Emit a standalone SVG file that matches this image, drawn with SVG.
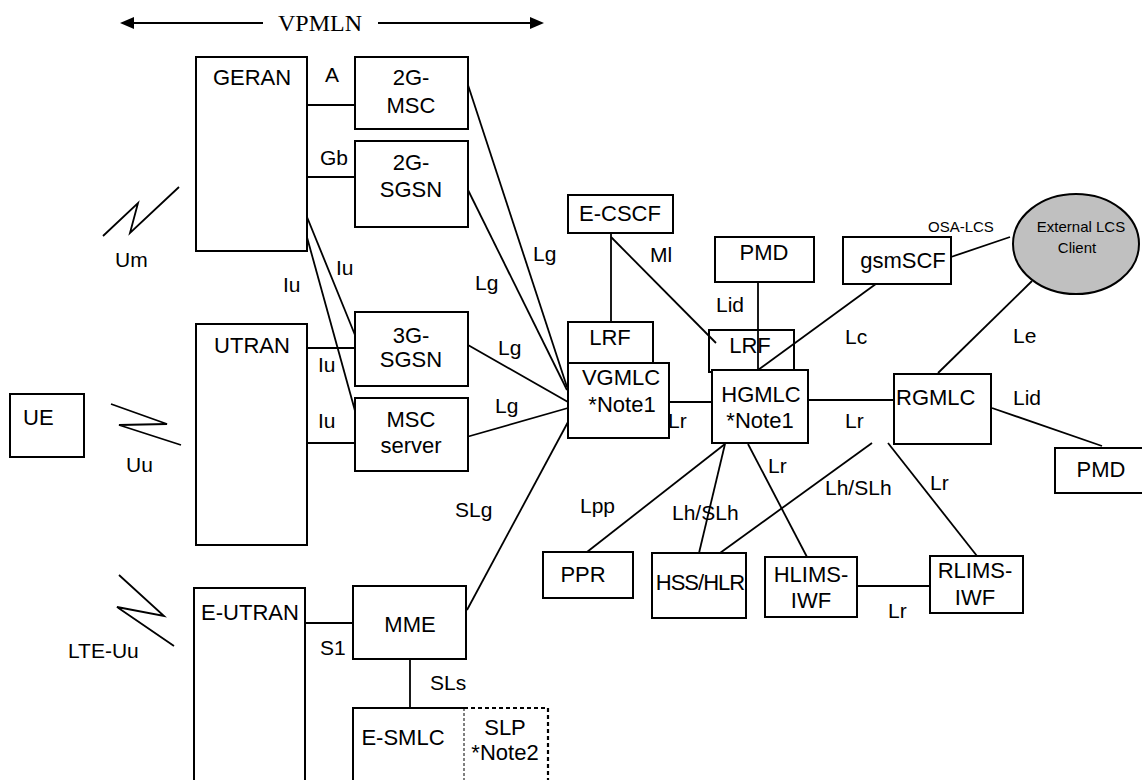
<svg xmlns="http://www.w3.org/2000/svg" width="1142" height="780" viewBox="0 0 1142 780">
<style>
.b{fill:#fff;stroke:#000;stroke-width:2}
.t{font-family:"Liberation Sans",Arial,sans-serif;font-size:22px;fill:#000;text-anchor:middle}
.l{font-family:"Liberation Sans",Arial,sans-serif;font-size:21px;fill:#000}
.s{font-family:"Liberation Sans",Arial,sans-serif;font-size:15px;fill:#000}
.c{stroke:#000;stroke-width:1.8;fill:none}
</style>
<rect width="1142" height="780" fill="#fff"/>
<g id="vpmln">
<line class="c" x1="132" y1="23" x2="263" y2="23" stroke-width="2.4"/>
<polygon points="120,23 134,17 134,29" fill="#000"/>
<line class="c" x1="378" y1="23" x2="531" y2="23" stroke-width="2.4"/>
<polygon points="544,23 530,17 530,29" fill="#000"/>
<text x="320" y="31" font-family="Liberation Serif,Times New Roman,serif" font-size="24" text-anchor="middle">VPMLN</text>
</g>
<g id="connectors">
<line class="c" x1="307" y1="105" x2="355" y2="105"/>
<line class="c" x1="307" y1="177" x2="355" y2="177"/>
<line class="c" x1="307" y1="217" x2="355" y2="335"/>
<line class="c" x1="305" y1="230" x2="357" y2="418"/>
<line class="c" x1="307" y1="348" x2="355" y2="348"/>
<line class="c" x1="307" y1="443" x2="355" y2="443"/>
<line class="c" x1="468" y1="85" x2="567" y2="387"/>
<line class="c" x1="468" y1="190" x2="567" y2="390"/>
<line class="c" x1="468" y1="345" x2="568" y2="402"/>
<line class="c" x1="463" y1="438" x2="568" y2="408"/>
<line class="c" x1="467" y1="610" x2="568" y2="422"/>
<line class="c" x1="305" y1="623" x2="353" y2="623"/>
<line class="c" x1="410" y1="659" x2="410" y2="708"/>
<line class="c" x1="611" y1="233" x2="611" y2="322"/>
<line class="c" x1="611" y1="237" x2="716" y2="343"/>
<line class="c" x1="758" y1="282" x2="758" y2="370"/>
<line class="c" x1="884" y1="278" x2="758" y2="370"/>
<line class="c" x1="663" y1="402" x2="712" y2="402"/>
<line class="c" x1="808" y1="400" x2="894" y2="400"/>
<line class="c" x1="951" y1="257" x2="1010" y2="237"/>
<line class="c" x1="1032" y1="281" x2="938" y2="373"/>
<line class="c" x1="992" y1="408" x2="1102" y2="446"/>
<line class="c" x1="725" y1="444" x2="587" y2="552"/>
<line class="c" x1="725" y1="444" x2="699" y2="553"/>
<line class="c" x1="748" y1="444" x2="807" y2="557"/>
<line class="c" x1="872" y1="443" x2="720" y2="553"/>
<line class="c" x1="888" y1="443" x2="977" y2="556"/>
<line class="c" x1="857" y1="586" x2="930" y2="586"/>
<polyline class="c" points="103,236 138,203 130,233 179,187"/>
<polyline class="c" points="111,404 167,424 119,425 181,445"/>
<polyline class="c" points="119,575 164,616 117,607 174,646"/>
<text class="l" x="325" y="82">A</text>
<text class="l" x="320" y="165">Gb</text>
<text class="l" x="115" y="267">Um</text>
<text class="l" x="336" y="275">Iu</text>
<text class="l" x="283" y="292">Iu</text>
<text class="l" x="318" y="372">Iu</text>
<text class="l" x="318" y="428">Iu</text>
<text class="l" x="126" y="472">Uu</text>
<text class="l" x="533" y="261">Lg</text>
<text class="l" x="475" y="290">Lg</text>
<text class="l" x="498" y="355">Lg</text>
<text class="l" x="495" y="413">Lg</text>
<text class="l" x="650" y="262">Ml</text>
<text class="l" x="716" y="312">Lid</text>
<text class="l" x="845" y="344">Lc</text>
<text class="l" x="1013" y="343">Le</text>
<text class="s" x="928" y="232">OSA-LCS</text>
<text class="l" x="668" y="428">Lr</text>
<text class="l" x="845" y="428">Lr</text>
<text class="l" x="1013" y="405">Lid</text>
<text class="l" x="455" y="517">SLg</text>
<text class="l" x="580" y="513">Lpp</text>
<text class="l" x="672" y="520">Lh/SLh</text>
<text class="l" x="768" y="473">Lr</text>
<text class="l" x="825" y="495">Lh/SLh</text>
<text class="l" x="930" y="490">Lr</text>
<text class="l" x="888" y="618">Lr</text>
<text class="l" x="68" y="658">LTE-Uu</text>
<text class="l" x="320" y="655">S1</text>
<text class="l" x="430" y="690">SLs</text>
</g>
<g id="ue"><rect class="b" x="10" y="394" width="74" height="63"/><text class="t" x="23" y="425" style="text-anchor:start">UE</text></g>
<g id="geran"><rect class="b" x="196" y="57" width="111" height="194"/><text class="t" x="252" y="85">GERAN</text></g>
<g id="utran"><rect class="b" x="196" y="324" width="111" height="221"/><text class="t" x="252" y="353">UTRAN</text></g>
<g id="eutran"><rect class="b" x="194" y="588" width="111" height="220"/><text class="t" x="250" y="620">E-UTRAN</text></g>
<g id="msc2g"><rect class="b" x="355" y="57" width="113" height="72"/><text class="t" x="411" y="85">2G-</text><text class="t" x="411" y="113">MSC</text></g>
<g id="sgsn2g"><rect class="b" x="355" y="141" width="113" height="86"/><text class="t" x="411" y="170">2G-</text><text class="t" x="411" y="197">SGSN</text></g>
<g id="sgsn3g"><rect class="b" x="355" y="312" width="113" height="74"/><text class="t" x="411" y="343">3G-</text><text class="t" x="411" y="367">SGSN</text></g>
<g id="mscserver"><rect class="b" x="355" y="398" width="113" height="73"/><text class="t" x="411" y="427">MSC</text><text class="t" x="411" y="453">server</text></g>
<g id="mme"><rect class="b" x="353" y="586" width="113" height="73"/><text class="t" x="410" y="632">MME</text></g>
<g id="esmlc"><path d="M353,790 V708 H464" fill="none" stroke="#000" stroke-width="2"/><text class="t" x="403" y="745">E-SMLC</text></g>
<g id="slp"><path d="M464,708 H548 V790" fill="none" stroke="#000" stroke-width="2.2" stroke-dasharray="4 3"/><line x1="464" y1="708" x2="464" y2="790" stroke="#000" stroke-width="1" stroke-dasharray="3 2"/><text class="t" x="505" y="735">SLP</text><text class="t" x="505" y="760">*Note2</text></g>
<g id="ecscf"><rect class="b" x="568" y="195" width="105" height="38"/><text class="t" x="620" y="221">E-CSCF</text></g>
<g id="lrfv"><rect class="b" x="568" y="322" width="85" height="41"/><text class="t" x="610" y="345">LRF</text></g>
<g id="vgmlc"><rect class="b" x="568" y="363" width="101" height="75"/><text class="t" x="621" y="385">VGMLC</text><text class="t" x="622" y="412">*Note1</text></g>
<g id="pmdh"><rect class="b" x="715" y="237" width="99" height="45"/><text class="t" x="764" y="260">PMD</text></g>
<g id="lrfh"><rect class="b" x="709" y="330" width="85" height="42" fill-opacity="0"/><text class="t" x="750" y="353">LRF</text></g>
<g id="hgmlc"><rect class="b" x="712" y="370" width="96" height="73"/><text class="t" x="761" y="402">HGMLC</text><text class="t" x="760" y="428">*Note1</text></g>
<g id="gsmscf"><rect class="b" x="843" y="237" width="108" height="47"/><text class="t" x="903" y="268">gsmSCF</text></g>
<g id="lcsclient"><ellipse cx="1076" cy="244" rx="63" ry="50" fill="#c0c0c0" stroke="#000" stroke-width="2"/><text class="s" x="1081" y="232" text-anchor="middle">External LCS</text><text class="s" x="1077" y="253" text-anchor="middle">Client</text></g>
<g id="rgmlc"><rect class="b" x="894" y="374" width="97" height="70"/><text class="t" x="896" y="405" style="text-anchor:start">RGMLC</text></g>
<g id="pmdr"><rect class="b" x="1055" y="448" width="90" height="45"/><text class="t" x="1101" y="477">PMD</text></g>
<g id="ppr"><rect class="b" x="543" y="552" width="90" height="46"/><text class="t" x="583" y="582">PPR</text></g>
<g id="hsshlr"><rect class="b" x="652" y="553" width="94" height="65"/><text class="t" x="700" y="590" letter-spacing="-1">HSS/HLR</text></g>
<g id="hlimsiwf"><rect class="b" x="765" y="557" width="92" height="60"/><text class="t" x="811" y="582">HLIMS-</text><text class="t" x="811" y="608">IWF</text></g>
<g id="rlimsiwf"><rect class="b" x="930" y="556" width="93" height="57"/><text class="t" x="975" y="578">RLIMS-</text><text class="t" x="975" y="605">IWF</text></g>
</svg>
